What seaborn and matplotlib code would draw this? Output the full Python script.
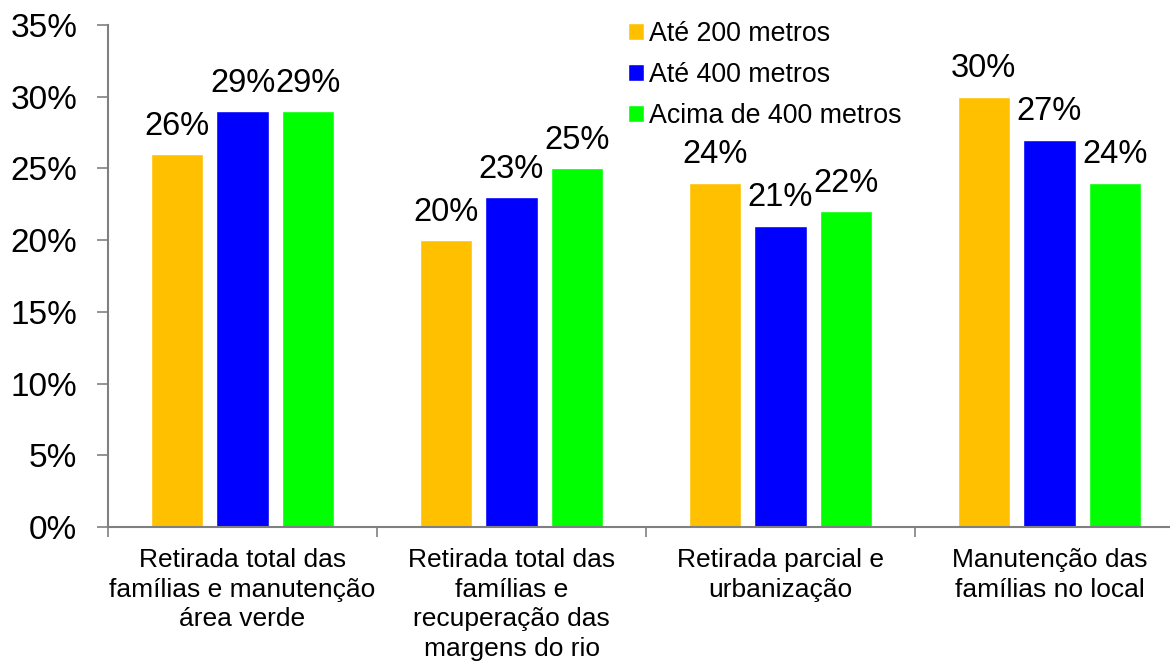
import matplotlib
matplotlib.use("Agg")
import matplotlib.pyplot as plt
import seaborn as sns
import pandas as pd
from matplotlib.ticker import FixedLocator, PercentFormatter

categories = [
    "Retirada total das\nfamílias e manutenção\nárea verde",
    "Retirada total das\nfamílias e\nrecuperação das\nmargens do rio",
    "Retirada parcial e\nurbanização",
    "Manutenção das\nfamílias no local",
]
series = ["Até 200 metros", "Até 400 metros", "Acima de 400 metros"]
ate_200 = [26, 20, 24, 30]
ate_400 = [29, 23, 21, 27]
acima_400 = [29, 25, 22, 24]
colors = ["#FFC000", "#0000FF", "#00FF00"]

rows = []
for s, vals in zip(series, [ate_200, ate_400, acima_400]):
    for c, v in zip(categories, vals):
        rows.append({"cat": c, "serie": s, "val": v})
df = pd.DataFrame(rows)

sns.set_theme(style="white")
plt.rcParams["font.family"] = ["Liberation Sans", "DejaVu Sans"]
plt.rcParams["text.color"] = "black"

W, H = 1170, 663
fig = plt.figure(figsize=(W / 100, H / 100), dpi=100)
ax = fig.add_axes([108 / W, 1 - 527 / H, (1184 - 108) / W, (527 - 25) / H])

sns.barplot(data=df, x="cat", y="val", hue="serie", hue_order=series,
            order=categories, palette=colors, width=0.735, gap=0.21,
            ax=ax, saturation=1, legend=True)

for cont in ax.containers:
    ax.bar_label(cont, fmt="%d%%", padding=9, fontsize=23.5, color="black")

ax.set_ylim(0, 35)
ax.set_xlim(-0.5, 3.5)
ax.set_yticks(range(0, 36, 5))
ax.yaxis.set_major_formatter(PercentFormatter(decimals=0))
ax.set_xlabel("")
ax.set_ylabel("")

for side in ["top", "right"]:
    ax.spines[side].set_visible(False)
for side in ["left", "bottom"]:
    ax.spines[side].set_color("#808080")
    ax.spines[side].set_linewidth(1.5)

ax.tick_params(axis="y", which="major", length=8, width=1.2, color="#808080",
               direction="out", pad=14, labelsize=24, labelcolor="black", left=True)
ax.tick_params(axis="x", which="major", length=0, pad=15, labelsize=19, labelcolor="black")
ax.xaxis.set_minor_locator(FixedLocator([-0.5, 0.5, 1.5, 2.5, 3.5]))
ax.tick_params(axis="x", which="minor", length=7, width=1.2, color="#808080",
               direction="out", bottom=True)
for lbl in ax.get_xticklabels():
    lbl.set_linespacing(1.3)
    lbl.set_horizontalalignment("center")

leg = ax.legend(loc="upper left", bbox_to_anchor=(617 / W, 1 - 10 / H),
                bbox_transform=fig.transFigure, frameon=False, fontsize=19.3,
                handlelength=0.6, handleheight=0.6, handletextpad=0.2,
                labelspacing=0.56, borderaxespad=0)
for t in leg.get_texts():
    t.set_color("black")

fig.savefig("out.png", dpi=100)
